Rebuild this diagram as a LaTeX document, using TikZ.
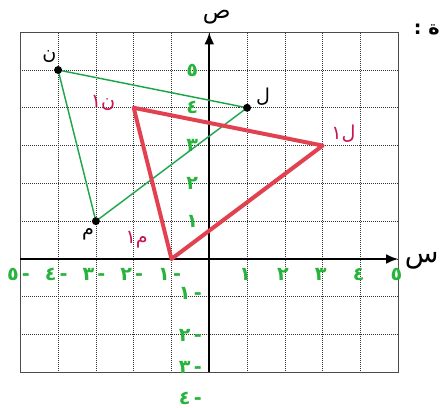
\documentclass[tikz,border=0pt]{standalone}
\usepackage{fontspec}
\newfontfamily\arabicfont[Script=Arabic]{DejaVu Sans}
\TeXXeTstate=1
\usetikzlibrary{arrows.meta,positioning}
\definecolor{linegreen}{RGB}{30,165,75}
\definecolor{numgreen}{RGB}{40,180,60}
\definecolor{linered}{RGB}{225,65,80}
\definecolor{labred}{RGB}{200,20,80}

\begin{document}
\begin{tikzpicture}[>={Latex[length=3.2mm,width=2.6mm]},
    gridline/.style={densely dotted, line width=0.5pt, black!80},
    axis/.style={->, line width=1.6pt},
    pt/.style={circle, fill=black, inner sep=0pt, minimum size=6pt},
    greenside/.style={linegreen, line width=1.1pt},
    redside/.style={linered, line width=3pt, line join=round},
    num/.style={text=numgreen, font=\arabicfont\bfseries\Large, inner sep=0pt},
    vlab/.style={font=\arabicfont\Large, inner sep=1pt},
    rlab/.style={text=labred, font=\arabicfont\Large, inner sep=1pt}]
    \useasboundingbox (-5.537,-3.942) rectangle (6.130,6.852);
    % grid and frame
    \draw[gridline] (-5,-3) grid (5,6);
    \draw[black!70, line width=0.8pt] (-5,-3) rectangle (5,6);
    % axes
    \coordinate (xl) at (-5,0);
    \coordinate (xr) at (5,0);
    \coordinate (yb) at (0,-3);
    \coordinate (yt) at (0,6);
    \draw[axis] (xl) -- (xr);
    \draw[axis] (yb) -- (yt);
    \node[vlab, font=\arabicfont\LARGE, inner sep=0pt] (yname) at (0.2,6.4) {ص};
    \node[vlab, font=\arabicfont\huge, inner sep=0pt] (xname) at (5.62,-0.05) {س};
    % axis numbers
    \foreach \v/\d in {1/١,2/٢,3/٣,4/٤,5/٥} {
        \node[num] (xp\v) at (\v-0.05,-0.4) {\d};
        \node[num] (yp\v) at (-0.45,\v) {\d};
        \node[num] (xn\v) at (-\v-0.05,-0.4) {\d\,-};
    }
    \foreach \v/\d/\y in {1/١/-0.9,2/٢/-2.02,3/٣/-2.86,4/٤/-3.68}
        \node[num] (yn\v) at (-0.5,\y) {\d\,-};
    % triangle before
    \coordinate (N) at (-4,5);
    \coordinate (L) at (1,4);
    \coordinate (M) at (-3,1);
    \draw[greenside] (N) -- (L) -- (M) -- cycle;
    \node[pt] (dotN) at (N) {};
    \node[pt] (dotL) at (L) {};
    \node[pt] (dotM) at (M) {};
    \node[vlab] (labN) at (-4.23,5.36) {ن};
    \node[vlab] (labL) at (1.42,4.30) {ل};
    \node[vlab] (labM) at (-3.21,0.66) {م};
    % triangle after
    \coordinate (N1) at (-2,4);
    \coordinate (L1) at (3,3);
    \coordinate (M1) at (-1,0);
    \draw[redside] (N1) -- (L1) -- (M1) -- cycle;
    \node[rlab] (labN1) at (-2.81,4.12) {\beginR ن١\endR};
    \node[rlab] (labL1) at (3.55,3.32) {\beginR ل١\endR};
    \node[rlab] (labM1) at (-1.92,0.50) {\beginR م١\endR};
    % heading fragment
    \node[font=\arabicfont\bfseries\Large, anchor=east, inner sep=0pt] (head) at (6.1,6.08) {\beginR ة :\endR};
\end{tikzpicture}
\end{document}
